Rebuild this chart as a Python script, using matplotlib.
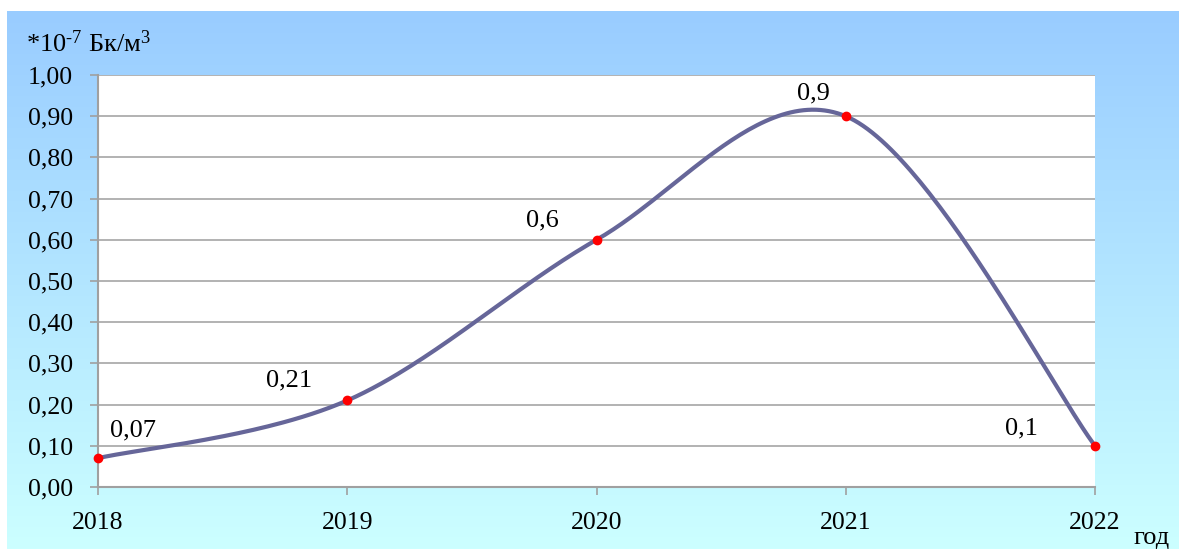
import matplotlib
matplotlib.use('Agg')
import matplotlib.pyplot as plt
import numpy as np

# данные
years = [2018, 2019, 2020, 2021, 2022]
values = [0.07, 0.21, 0.6, 0.9, 0.1]
y_ticks = [0.0, 0.1, 0.2, 0.3, 0.4, 0.5, 0.6, 0.7, 0.8, 0.9, 1.0]
unit_label = r'*10$^{\text{-7}}$ Бк/м$^{3}$'
x_label = 'год'

# смещения подписей (в пикселях) относительно точек
label_offsets = [(35, 28), (-58, 20), (-54, 19), (-32, 23), (-74, 17)]


def smooth_curve(xs, ys, n=60):
    """Сглаженная линия как в Excel (кривые Безье)"""
    px = [xs[0]] + list(xs) + [xs[-1]]
    py = [ys[0]] + list(ys) + [ys[-1]]
    out_x, out_y = [], []
    t = np.linspace(0, 1, n)
    for i in range(1, len(px) - 2):
        x0, y0 = px[i], py[i]
        x3, y3 = px[i + 1], py[i + 1]
        x1 = x0 + (px[i + 1] - px[i - 1]) / 6
        y1 = y0 + (py[i + 1] - py[i - 1]) / 6
        x2 = x3 - (px[i + 2] - px[i]) / 6
        y2 = y3 - (py[i + 2] - py[i]) / 6
        bx = (1 - t)**3 * x0 + 3 * (1 - t)**2 * t * x1 + 3 * (1 - t) * t**2 * x2 + t**3 * x3
        by = (1 - t)**3 * y0 + 3 * (1 - t)**2 * t * y1 + 3 * (1 - t) * t**2 * y2 + t**3 * y3
        out_x.extend(bx)
        out_y.extend(by)
    return out_x, out_y


def plot_chart():
    plt.rcParams['font.family'] = ['Liberation Serif', 'DejaVu Serif']
    plt.rcParams['mathtext.fontset'] = 'custom'
    plt.rcParams['mathtext.rm'] = 'Liberation Serif'
    plt.rcParams['mathtext.it'] = 'Liberation Serif:italic'

    W, H = 1179, 549
    fig = plt.figure(figsize=(W / 100, H / 100), dpi=100)
    fig.patch.set_facecolor('white')

    # градиентный фон
    bg = fig.add_axes([7 / W, 0, (W - 7) / W, (H - 11) / H], zorder=-1)
    top = np.array([153, 204, 255]) / 255
    bottom = np.array([204, 255, 255]) / 255
    k = np.linspace(0, 1, 256)[:, None, None]
    grad = top * (1 - k) + bottom * k
    bg.imshow(grad, aspect='auto', extent=[0, 1, 0, 1])
    bg.axis('off')

    ax = fig.add_axes([98 / W, 62 / H, 997 / W, 412 / H])
    ax.set_facecolor('white')

    sx, sy = smooth_curve(years, values)
    ax.plot(sx, sy, color='#666699', linewidth=3, solid_capstyle='round', zorder=3)
    ax.plot(years, values, linestyle='none', marker='o', markersize=6,
            color='#ff0000', clip_on=False, zorder=4)

    for (x, y), off in zip(zip(years, values), label_offsets):
        ax.annotate(str(y).replace('.', ','), (x, y), textcoords='offset pixels',
                    xytext=off, ha='center', va='center', fontsize=19)

    ax.set_xlim(years[0], years[-1])
    ax.set_ylim(0, 1)
    ax.set_yticks(y_ticks)
    ax.set_yticklabels([f'{v:.2f}'.replace('.', ',') for v in y_ticks])
    ax.set_xticks(years)
    ax.set_xticklabels([str(y) for y in years])
    ax.tick_params(axis='both', labelsize=18.5, length=6, width=1.2, color='#a0a0a0')
    ax.tick_params(axis='y', pad=12)
    ax.tick_params(axis='x', pad=12)

    ax.grid(True, axis='y', color='#a6a6a6', linewidth=1.2)
    ax.set_axisbelow(True)
    for side in ['top', 'right']:
        ax.spines[side].set_visible(False)
    for side in ['left', 'bottom']:
        ax.spines[side].set_color('#a0a0a0')
        ax.spines[side].set_linewidth(1.5)

    fig.text(26 / W, (H - 52) / H, unit_label, fontsize=19, ha='left', va='baseline')
    fig.text(1133 / W, 5 / H, x_label, fontsize=19, ha='left', va='baseline')

    fig.savefig('out.png', dpi=100)


if __name__ == '__main__':
    plot_chart()
